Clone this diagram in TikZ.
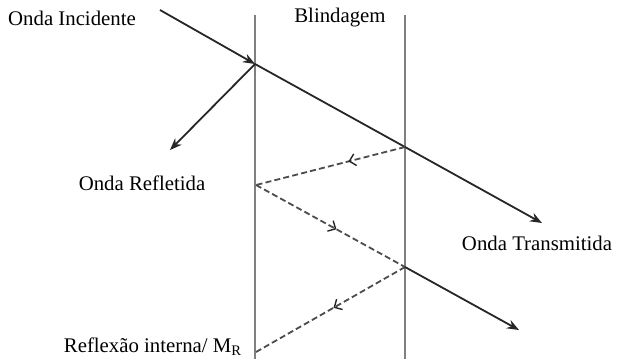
\documentclass[tikz,border=0pt]{standalone}
\usepackage{fontspec}
\setmainfont{Liberation Serif}
\usepackage{tikz}
\usetikzlibrary{arrows.meta,positioning,calc,decorations.markings}
\tikzset{
  >={Stealth[length=6pt,width=4.6pt]},
  % paredes
  wall/.style={draw=black!50,line width=1.2pt},
  % ondas
  ray/.style={draw=black!85,line width=0.9pt},
  inray/.style={draw=black!70,line width=0.9pt,dash pattern=on 3pt off 1.6pt,
    postaction={decorate},
    decoration={markings,mark=at position #1 with
      {\arrow[black!85,line width=0.7pt,solid]{Straight Barb[length=3pt,width=6pt]}}}},
  lbl/.style={font=\fontsize{10.4pt}{12pt}\selectfont,inner sep=0pt},
}
\begin{document}
\begin{tikzpicture}[x=0.5pt,y=-0.5pt]
  \useasboundingbox (0,0) rectangle (619,359);
  % blindagem
  \coordinate (w1t) at (255,15);
  \coordinate (w1b) at (255,359);
  \coordinate (w2t) at (405,15);
  \coordinate (w2b) at (405,359);
  \draw[wall] (w1t) -- (w1b);
  \draw[wall] (w2t) -- (w2b);
  % pontos de contato
  \coordinate (src) at (160,10);
  \coordinate (p1) at (255,64);
  \coordinate (p2) at (405,147);
  \coordinate (p3) at (256,185);
  \coordinate (p4) at (405,267);
  \coordinate (p5) at (256,352);
  \coordinate (rf) at (170,150);
  \coordinate (tr1) at (542,223);
  \coordinate (tr2) at (519,330);
  % textos
  \node[lbl] (inc) at (72,18) {Onda Incidente};
  \node[lbl] (bld) at (340,18) {Blindagem};
  \node[lbl] (ref) at (142,183) {Onda Refletida};
  \node[lbl] (trm) at (537,243) {Onda Transmitida};
  \node[lbl] (rin) at (153,347) {Reflexão interna/ M\textsubscript{R}};
  % ondas
  \draw[ray,->] (src) -- (p1);
  \draw[ray,->] (p1) -- (rf);
  \draw[ray,->] (p1) -- (p2) -- (tr1);
  \draw[inray=0.38] (p2) -- (p3);
  \draw[inray=0.54] (p3) -- (p4);
  \draw[inray=0.48] (p4) -- (p5);
  \draw[ray,->] (p4) -- (tr2);
\end{tikzpicture}
\end{document}
